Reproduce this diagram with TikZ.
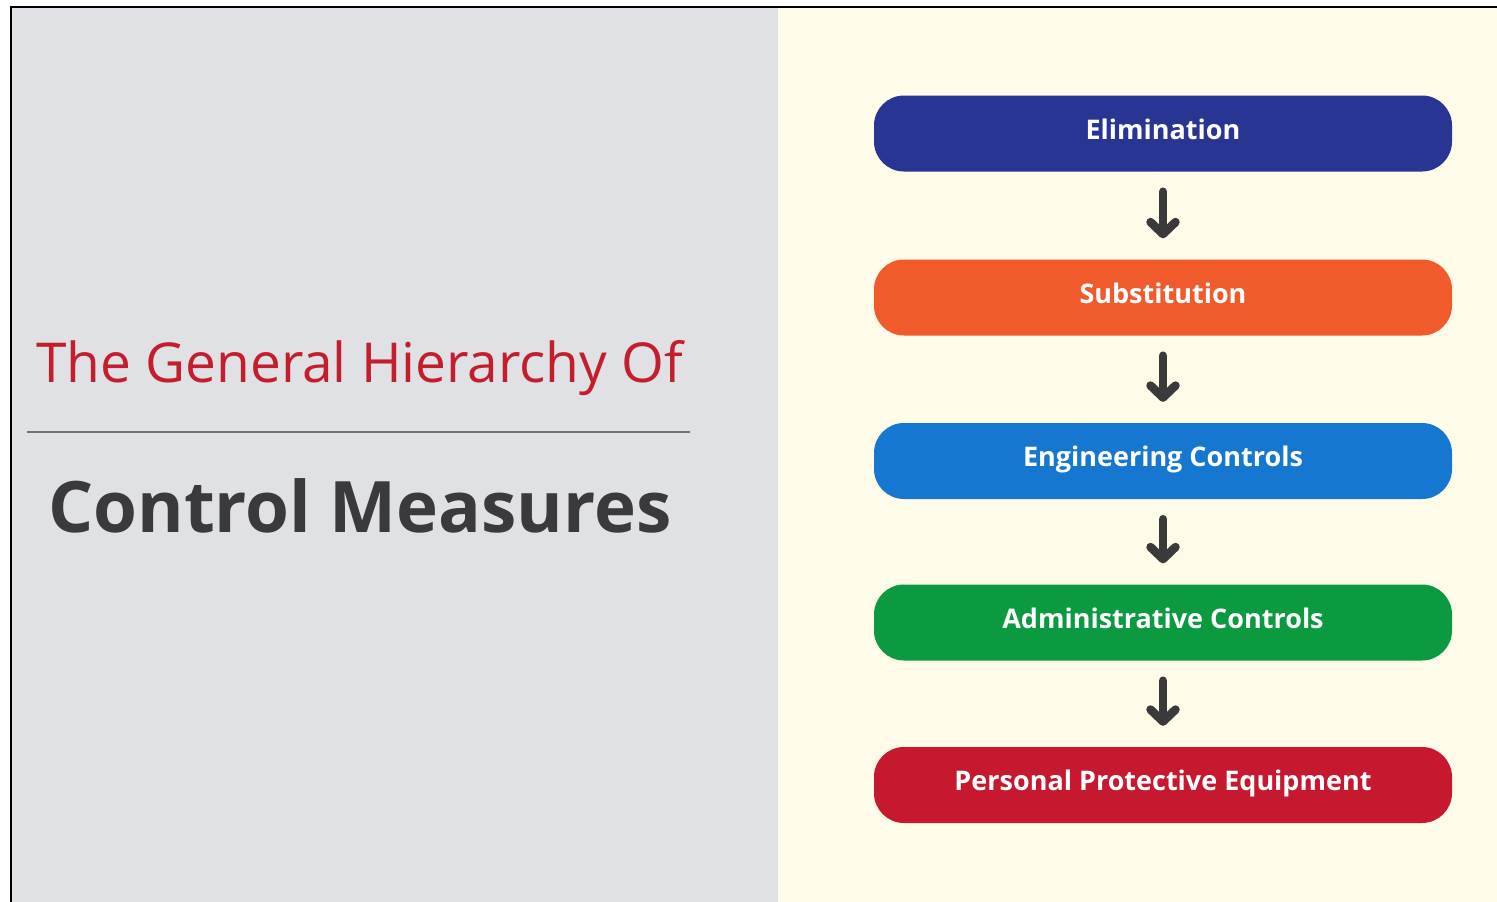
\documentclass[tikz,border=0pt]{standalone}
\usepackage{fontspec}
\setmainfont{Open Sans}
\usepackage{tikz}
\usetikzlibrary{arrows.meta}

\definecolor{leftgray}{HTML}{DFE1E4}
\definecolor{rightcream}{HTML}{FEFBE9}
\definecolor{titlered}{HTML}{C41E2E}
\definecolor{darktext}{HTML}{3A3A3D}
\definecolor{rulegray}{HTML}{707274}
\definecolor{elimblue}{HTML}{283593}
\definecolor{suborange}{HTML}{F15A2A}
\definecolor{engblue}{HTML}{1577CF}
\definecolor{admgreen}{HTML}{0B9A3F}
\definecolor{ppered}{HTML}{C6192F}
\definecolor{arrowgray}{HTML}{3A3A3A}

\begin{document}
\begin{tikzpicture}[x=1pt, y=-1pt,
		box_style/.style={rounded corners=30pt, minimum width=578pt, minimum height=76pt, inner sep=0pt, text height=20pt, text depth=8.5pt, text=white, font=\fontsize{27}{32}\selectfont\bfseries},
		title_style/.style={anchor=base west, inner sep=0pt, text=titlered, font=\fontsize{55}{66}\selectfont},
		head_style/.style={anchor=base west, inner sep=0pt, text=darktext, font=\fontsize{71}{85}\selectfont\bfseries},
		arrow_style/.style={draw=arrowgray, line width=8.5pt, line cap=round, shorten <=20pt, shorten >=21pt, -{Straight Barb[round, length=12pt, width=25pt]}}]
		
		\useasboundingbox (0,0) rectangle (1497,902);
		\fill[leftgray] (11,7) rectangle (778,902);
		\fill[rightcream] (778,7) rectangle (1497,902);
		\draw[line width=2.5pt, black] (11,902) -- (11,7) -- (1497,7);
		
		% title
		\node[title_style] (t1) at (36,382) {The General Hierarchy Of};
		\draw[rulegray, line width=1.5pt] (27,432) -- (690,432);
		\node[head_style] (t2) at (48,532) {Control Measures};
		
		% hierarchy
		\node[box_style, fill=elimblue] (b1) at (1163,133.5) {Elimination};
		\node[box_style, fill=suborange] (b2) at (1163,297.5) {Substitution};
		\node[box_style, fill=engblue] (b3) at (1163,461) {Engineering Controls};
		\node[box_style, fill=admgreen] (b4) at (1163,622.5) {Administrative Controls};
		\node[box_style, fill=ppered] (b5) at (1163,785) {Personal Protective Equipment};
		
		\draw[arrow_style] (b1) -- (b2);
		\draw[arrow_style] (b2) -- (b3);
		\draw[arrow_style] (b3) -- (b4);
		\draw[arrow_style] (b4) -- (b5);
		
\end{tikzpicture}
\end{document}
